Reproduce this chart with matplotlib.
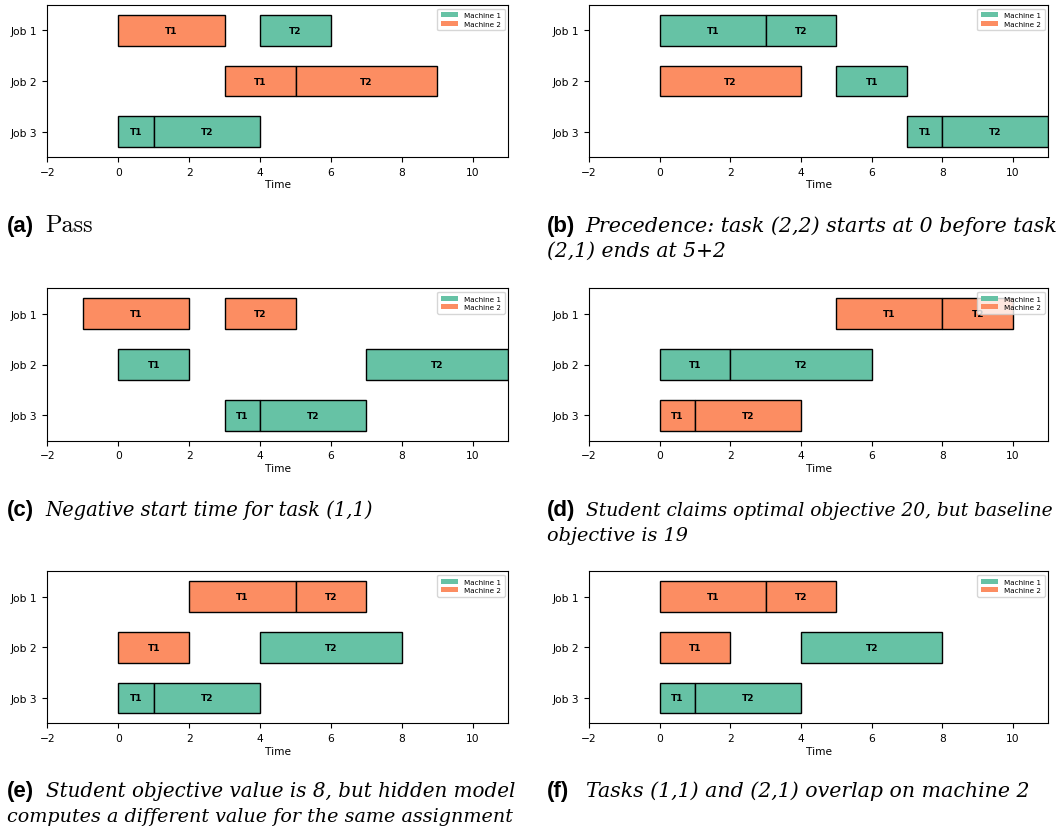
import matplotlib
matplotlib.use("Agg")
import matplotlib.pyplot as plt
from matplotlib.patches import Patch

machine_names = ["Machine 1", "Machine 2"]
machine_colors = ["#66c2a5", "#fc8d62"]
job_labels = ["Job 1", "Job 2", "Job 3"]
x_ticks = [-2, 0, 2, 4, 6, 8, 10]

# task rows: (job, task, start, duration, machine)
sched_a = [(1, "T1", 0, 3, 2), (1, "T2", 4, 2, 1),
           (2, "T1", 3, 2, 2), (2, "T2", 5, 4, 2),
           (3, "T1", 0, 1, 1), (3, "T2", 1, 3, 1)]
sched_b = [(1, "T1", 0, 3, 1), (1, "T2", 3, 2, 1),
           (2, "T1", 5, 2, 1), (2, "T2", 0, 4, 2),
           (3, "T1", 7, 1, 1), (3, "T2", 8, 3, 1)]
sched_c = [(1, "T1", -1, 3, 2), (1, "T2", 3, 2, 2),
           (2, "T1", 0, 2, 1), (2, "T2", 7, 4, 1),
           (3, "T1", 3, 1, 1), (3, "T2", 4, 3, 1)]
sched_d = [(1, "T1", 5, 3, 2), (1, "T2", 8, 2, 2),
           (2, "T1", 0, 2, 1), (2, "T2", 2, 4, 1),
           (3, "T1", 0, 1, 2), (3, "T2", 1, 3, 2)]
sched_e = [(1, "T1", 2, 3, 2), (1, "T2", 5, 2, 2),
           (2, "T1", 0, 2, 2), (2, "T2", 4, 4, 1),
           (3, "T1", 0, 1, 1), (3, "T2", 1, 3, 1)]
sched_f = [(1, "T1", 0, 3, 2), (1, "T2", 3, 2, 2),
           (2, "T1", 0, 2, 2), (2, "T2", 4, 4, 1),
           (3, "T1", 0, 1, 1), (3, "T2", 1, 3, 1)]

tags = ["(a)", "(b)", "(c)", "(d)", "(e)", "(f)"]
captions = [
    ["Pass"],
    ["Precedence: task (2,2) starts at 0 before task", "(2,1) ends at 5+2"],
    ["Negative start time for task (1,1)"],
    ["Student claims optimal objective 20, but baseline", "objective is 19"],
    ["Student objective value is 8, but hidden model",
     "computes a different value for the same assignment"],
    ["Tasks (1,1) and (2,1) overlap on machine 2"],
]
schedules = [sched_a, sched_b, sched_c, sched_d, sched_e, sched_f]

W, H = 1064, 829
fig = plt.figure(figsize=(W / 100, H / 100), dpi=100)

# axes boxes in pixels (left, top, right, bottom)
col_x = [(47.3, 508.3), (589.0, 1048.3)]
row_y = [(6.0, 158.0), (289.3, 441.7), (572.3, 724.3)]
cap_base = [232, 516, 797]
# right end (px) of each caption line in the reference, used to size the font
cap_right = [[89], [1058, 726], [374], [1053, 688], [515, 514], [1030]]
cap_font = dict(family="DejaVu Serif", style="italic")
renderer = fig.canvas.get_renderer()


def gantt(ax, sched):
    for job, task, start, dur, m in sched:
        ax.barh(job - 1, dur, left=start, height=0.6,
                color=machine_colors[m - 1], edgecolor="black", linewidth=1)
        ax.text(start + dur / 2, job - 1, task, ha="center", va="center",
                fontsize=6.5, fontweight="bold")
    ax.set_yticks(range(len(job_labels)))
    ax.set_yticklabels(job_labels, fontsize=7.7)
    ax.set_ylim(len(job_labels) - 0.5, -0.5)
    ax.set_xlim(-2, 11)
    ax.set_xticks(x_ticks)
    ax.tick_params(axis="x", labelsize=7.7)
    ax.set_xlabel("Time", fontsize=7.7, labelpad=2)
    handles = [Patch(facecolor=c, label=n) for c, n in zip(machine_colors, machine_names)]
    ax.legend(handles=handles, loc="upper right", fontsize=5.2,
              handlelength=2.4, borderpad=0.5, labelspacing=0.35)


def fitted_text(x, y, s, right, **kw):
    t = fig.text(x / W, y, s, fontsize=16, va="baseline", **kw)
    w = t.get_window_extent(renderer).width
    t.set_fontsize(16 * (right - x) / w)
    return t


for i, sched in enumerate(schedules):
    r, c = divmod(i, 2)
    x0, x1 = col_x[c]
    y0, y1 = row_y[r]
    ax = fig.add_axes([x0 / W, 1 - y1 / H, (x1 - x0) / W, (y1 - y0) / H])
    gantt(ax, sched)

    lx = 7 if c == 0 else 547
    base = cap_base[r]
    fig.text(lx / W, 1 - base / H, tags[i], family="Liberation Sans",
             fontweight="bold", fontsize=16, va="baseline")
    for k, line in enumerate(captions[i]):
        tx = lx + 38.5 if k == 0 else lx
        ty = 1 - (base + 25 * k) / H
        if i == 0:
            fig.text(tx / W, ty, line, family="cmr10", fontsize=17.5, va="baseline")
        else:
            fitted_text(tx, ty, line, cap_right[i][k], **cap_font)

fig.savefig("out.png", dpi=100)
